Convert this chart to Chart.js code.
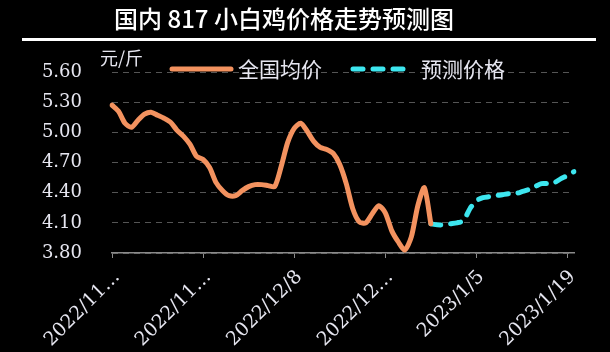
<!DOCTYPE html>
<html>
<head>
<meta charset="utf-8">
<script src="https://cdn.jsdelivr.net/npm/chart.js@4.4.0/dist/chart.umd.min.js"></script>
<style>
  body { margin: 0; background: #000; }
  #wrap { width: 610px; height: 352px; }
</style>
</head>
<body>
<div id="wrap"><canvas id="price-chart" width="610" height="352"></canvas></div>
<script>
// 2022/11/10 .. 2023/1/20, one point a day
const firstDay = new Date(2022, 10, 10);
const dayCount = 72;
const tickEvery = 14;
const xTickLabels = ['2022/11…', '2022/11…', '2022/12/8', '2022/12…', '2023/1/5', '2023/1/19'];

// 全国均价 (day 0..49)
const avgPrice = [
  5.27, 5.21, 5.09, 5.05, 5.12, 5.18, 5.20, 5.17, 5.14, 5.10,
  5.02, 4.96, 4.88, 4.76, 4.73, 4.65, 4.50, 4.42, 4.37, 4.37,
  4.42, 4.46, 4.48, 4.48, 4.47, 4.46, 4.66, 4.90, 5.04, 5.09,
  5.01, 4.91, 4.85, 4.83, 4.79, 4.68, 4.49, 4.24, 4.11, 4.10,
  4.19, 4.27, 4.20, 4.02, 3.91, 3.83, 3.96, 4.27, 4.45, 4.09
];
// 预测价格 (day 49..71)
const forecastStart = 49;
const forecastPrice = [
  4.09, 4.08, 4.08, 4.09, 4.10, 4.12, 4.24, 4.32, 4.35, 4.36,
  4.37, 4.38, 4.39, 4.39, 4.41, 4.43, 4.46, 4.49, 4.49, 4.50,
  4.54, 4.57, 4.61
];

const yMin = 3.8, yMax = 5.6, yStep = 0.3;

const titleText = '国内 817 小白鸡价格走势预测图';
const unitText = '元/斤';
const seriesNames = ['全国均价', '预测价格'];
const orange = '#F3925F';
const cyan = '#3DE6EF';
const textColor = '#e6e6f0';

const dateLabels = [];
for (let i = 0; i < dayCount; i++) {
  const d = new Date(firstDay);
  d.setDate(d.getDate() + i);
  dateLabels.push(`${d.getFullYear()}/${d.getMonth() + 1}/${d.getDate()}`);
}

const headerPlugin = {
  id: 'header',
  afterDraw(chart) {
    const ctx = chart.ctx;
    ctx.save();
    ctx.fillStyle = '#fff';
    ctx.font = '500 24px "Noto Sans CJK SC"';
    ctx.textAlign = 'center';
    ctx.textBaseline = 'middle';
    ctx.fillText(titleText, 284, 19);
    ctx.fillRect(22, 38, 574, 3);

    ctx.fillStyle = textColor;
    ctx.textAlign = 'left';
    ctx.font = '18px "Noto Sans CJK SC"';
    ctx.fillText(unitText, 100, 58);

    ctx.lineWidth = 5;
    ctx.lineCap = 'round';
    ctx.strokeStyle = orange;
    ctx.beginPath();
    ctx.moveTo(172, 69);
    ctx.lineTo(231, 69);
    ctx.stroke();

    ctx.strokeStyle = cyan;
    ctx.setLineDash([10, 10]);
    ctx.beginPath();
    ctx.moveTo(353, 69);
    ctx.lineTo(406, 69);
    ctx.stroke();
    ctx.setLineDash([]);

    ctx.font = '21px "Noto Sans CJK SC"';
    ctx.fillText(seriesNames[0], 238, 69);
    ctx.fillText(seriesNames[1], 421, 69);
    ctx.restore();
  }
};

new Chart(document.getElementById('price-chart'), {
  type: 'line',
  data: {
    labels: dateLabels,
    datasets: [
      {
        label: seriesNames[0],
        data: avgPrice,
        borderColor: orange,
        borderWidth: 5,
        borderJoinStyle: 'round',
        borderCapStyle: 'round',
        pointRadius: 0,
        tension: 0.25
      },
      {
        label: seriesNames[1],
        data: Array(forecastStart).fill(null).concat(forecastPrice),
        borderColor: cyan,
        borderWidth: 5,
        borderDash: [10, 10],
        borderCapStyle: 'round',
        pointRadius: 0,
        tension: 0.25
      }
    ]
  },
  options: {
    responsive: false,
    animation: false,
    layout: { padding: { top: 72, right: 36, left: 0, bottom: 0 } },
    plugins: { legend: { display: false }, tooltip: { enabled: false } },
    scales: {
      x: {
        offset: false,
        afterFit: (scale) => { scale.height = 99; },
        border: { display: true, color: '#8a8a8a', width: 1.5 },
        grid: {
          drawOnChartArea: false,
          tickLength: 5,
          tickColor: (c) => (c.index % tickEvery === 0 ? '#8a8a8a' : 'rgba(0,0,0,0)')
        },
        ticks: {
          autoSkip: false,
          minRotation: 45,
          maxRotation: 45,
          padding: 8,
          labelOffset: 5,
          color: textColor,
          font: { family: '"DejaVu Serif"', size: 19 },
          callback: (v, i) => (i % tickEvery === 0 ? xTickLabels[i / tickEvery] : '')
        }
      },
      y: {
        min: yMin,
        max: yMax,
        afterFit: (scale) => { scale.width = 112; },
        // dashed horizontal gridlines
        border: { display: false, dash: [6, 5] },
        grid: { color: '#555555', lineWidth: 1, drawTicks: false },
        ticks: {
          stepSize: yStep,
          padding: 30,
          color: textColor,
          font: { family: '"DejaVu Serif"', size: 18 },
          callback: (v) => v.toFixed(2)
        }
      }
    }
  },
  plugins: [headerPlugin]
});
</script>
</body>
</html>
